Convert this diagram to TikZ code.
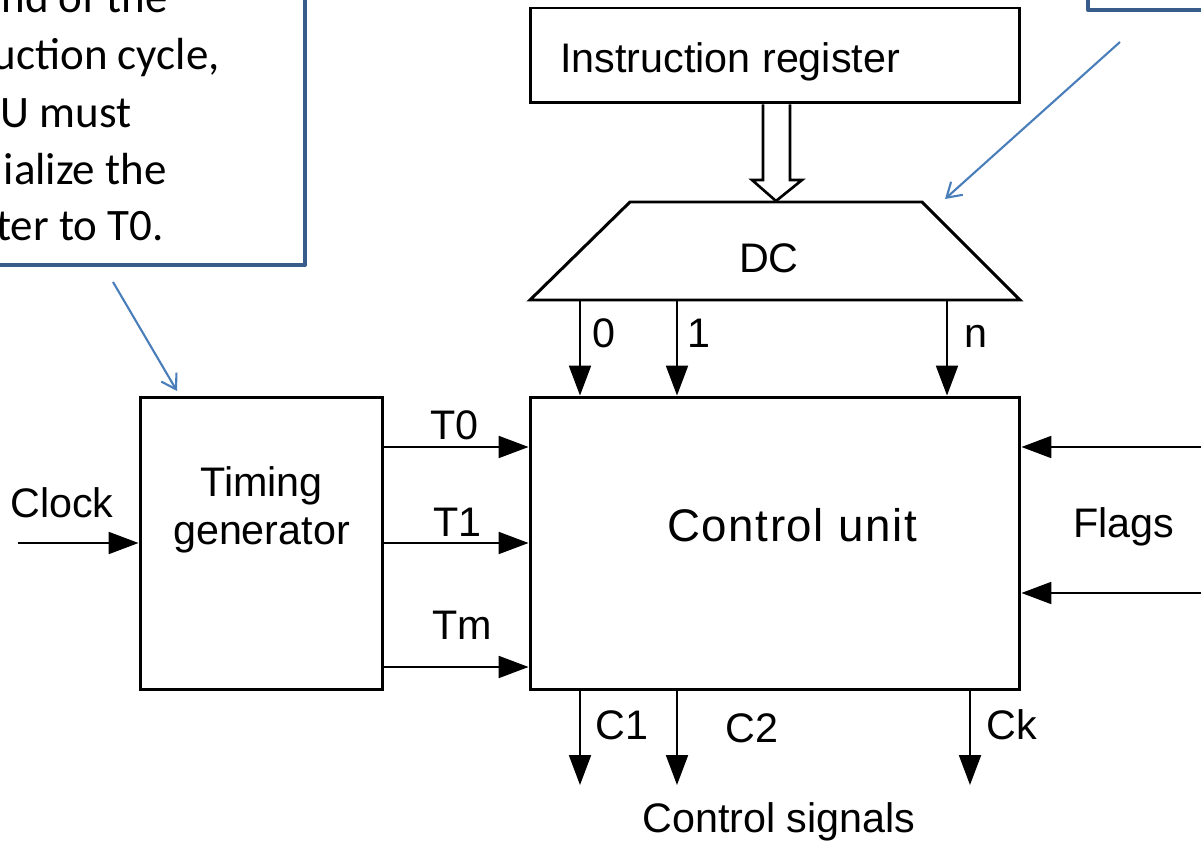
\documentclass[tikz,border=0pt]{standalone}
\usepackage{fontspec}
\setmainfont{Liberation Sans}
\newfontfamily\calloutfont{Carlito}
\newfontfamily\widefont[LetterSpace=3.5]{Liberation Sans}
\usetikzlibrary{arrows.meta,calc}

\definecolor{calloutedge}{RGB}{56,93,138}
\definecolor{calloutline}{RGB}{74,126,187}

\begin{document}
\begin{tikzpicture}[x=0.02cm,y=-0.02cm,
  block/.style={draw, line width=1.7pt, inner sep=0pt, fill=white},
  sig/.style={line width=1.1pt, -{Triangle[length=17pt,width=12.5pt]}},
  lbl/.style={font=\fontsize{23.5}{28}\selectfont, inner sep=0pt},
  note/.style={font=\calloutfont\fontsize{25.6}{30}\selectfont, inner sep=0pt},
  noteedge/.style={draw=calloutedge, line width=2.25pt, line join=round, fill=white},
  pointer/.style={draw=calloutline, line width=1.2pt,
    -{Straight Barb[length=8pt,width=10pt]}}]

\useasboundingbox (0,0) rectangle (1201,847);
\clip (0,0) rectangle (1201,847);

% instruction register
\node[block, minimum width=9.8cm, minimum height=1.9cm] (IR) at (775,55.5) {};
\node[lbl, anchor=base west] (irtext) at (560,73) {Instruction register};

% decoder
\coordinate (dcbl) at (530,300);
\coordinate (dctl) at (630,202);
\coordinate (dctr) at (922,202);
\coordinate (dcbr) at (1020,300);
\draw[line width=1.7pt, line join=miter] (dcbl) -- (dctl) -- (dctr) -- (dcbr) -- cycle;
\node[lbl, anchor=base] (DC) at (769,273) {DC};

% wide bus arrow from the register into the decoder
\draw[line width=1.5pt, fill=white, line join=miter]
  ($(IR.south)+(-12,0)$) -- (763,180) -- (752,180) -- (776,201) -- (802,180)
  -- (790,180) -- ($(IR.south)+(15,0)$);

% control unit
\node[block, minimum width=9.8cm, minimum height=5.86cm] (CU) at (775,543.5) {};
\node[inner sep=0pt, anchor=base, font=\widefont\fontsize{26}{30}\selectfont]
  (cutext) at (792,542) {Control unit};

% timing generator
\node[block, minimum width=4.86cm, minimum height=5.86cm] (TG) at (261.5,543.5) {};
\node[lbl, anchor=base] (tgtext1) at (261.5,497) {Timing};
\node[lbl, anchor=base] (tgtext2) at (261.5,545) {generator};

% decoder outputs
\coordinate (o0) at (580,300);
\coordinate (o1) at (677,300);
\coordinate (on) at (947,300);
\draw[sig] (o0) -- (CU.north -| o0);
\draw[sig] (o1) -- (CU.north -| o1);
\draw[sig] (on) -- (CU.north -| on);
\node[lbl, anchor=base west] (l0) at (592,348) {0};
\node[lbl, anchor=base west] (l1) at (687,348) {1};
\node[lbl, anchor=base west] (ln) at (964,348) {n};

% timing signals
\coordinate (t0) at (0,447);
\coordinate (t1) at (0,543);
\coordinate (tm) at (0,667);
\draw[sig] (TG.east |- t0) -- (CU.west |- t0);
\draw[sig] (TG.east |- t1) -- (CU.west |- t1);
\draw[sig] (TG.east |- tm) -- (CU.west |- tm);
\node[lbl, anchor=base west] (lt0) at (430,440) {T0};
\node[lbl, anchor=base west] (lt1) at (433,537) {T1};
\node[lbl, anchor=base west] (ltm) at (432,640) {Tm};

% clock input
\coordinate (clk) at (18,543);
\draw[sig] (clk) -- (TG.west |- clk);
\node[lbl, anchor=base west] (lclk) at (10,518) {Clock};

% flags
\coordinate (f1) at (1201,447);
\coordinate (f2) at (1201,593);
\draw[sig] (f1) -- (CU.east |- f1);
\draw[sig] (f2) -- (CU.east |- f2);
\node[lbl, anchor=base west] (lflags) at (1073,538) {Flags};

% control signal outputs
\coordinate (c1) at (580,785);
\coordinate (c2) at (677,785);
\coordinate (ck) at (970,785);
\draw[sig] (CU.south -| c1) -- (c1);
\draw[sig] (CU.south -| c2) -- (c2);
\draw[sig] (CU.south -| ck) -- (ck);
\node[lbl, anchor=base west] (lc1) at (595,740) {C1};
\node[lbl, anchor=base west] (lc2) at (725,743) {C2};
\node[lbl, anchor=base west] (lck) at (986,740) {Ck};
\node[lbl, anchor=base] (lcs) at (779,832) {Control signals};

% note boxes
\draw[noteedge] (-100,-100) rectangle (305,265);
\node[note, anchor=base east] (n1) at (168,13) {nd of the};
\node[note, anchor=base east] (n2) at (220,70) {uction cycle,};
\node[note, anchor=base east] (n3) at (132,128) {U must};
\node[note, anchor=base east] (n4) at (167,185) {ialize the};
\node[note, anchor=base east] (n5) at (164,241) {ter to T0.};
\draw[noteedge] (1088,10) rectangle (1300,-100);

% note pointers
\coordinate (p1s) at (113,282);
\coordinate (p1e) at (177,391);
\coordinate (p2s) at (1120,42);
\coordinate (p2e) at (945,199);
\draw[pointer] (p1s) -- (p1e);
\draw[pointer] (p2s) -- (p2e);
\end{tikzpicture}
\end{document}
